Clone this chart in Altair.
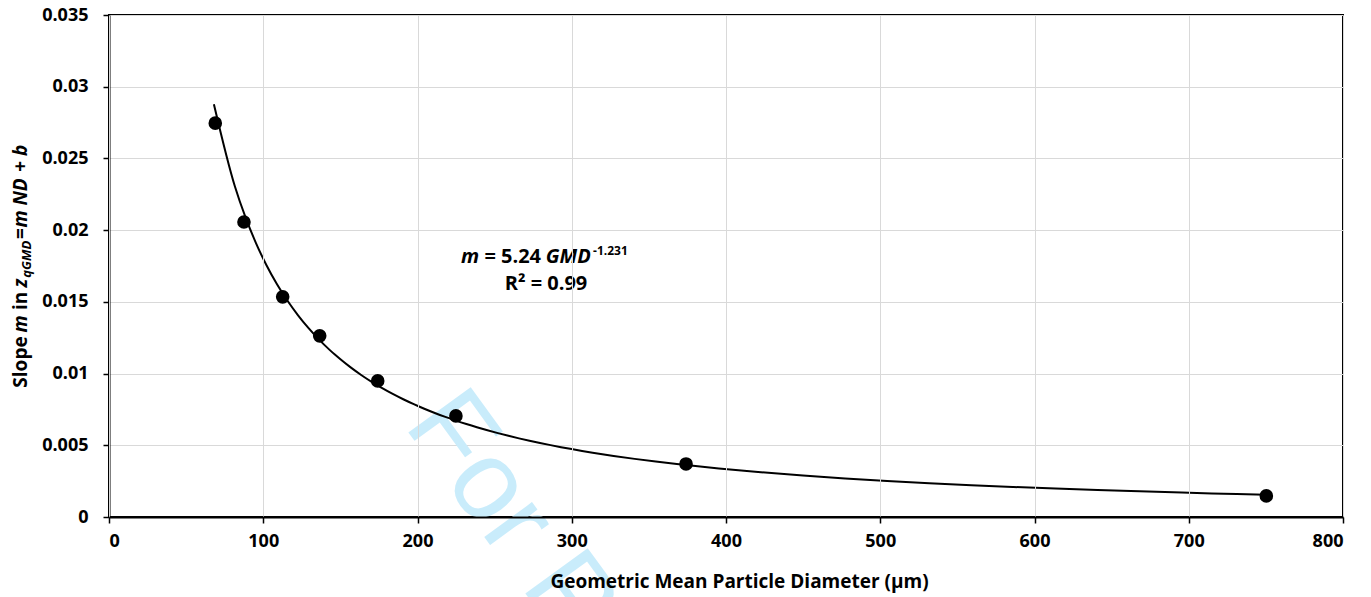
import altair as alt
import pandas as pd

# ---- data ----
gmd = [68.9, 87.5, 112.6, 136.6, 174.2, 224.9, 374.1, 750.3]
slope = [0.02746, 0.02057, 0.01535, 0.01263, 0.00949, 0.00705, 0.0037, 0.00147]
fit_extent = [68, 750]
x_ticks = [0, 100, 200, 300, 400, 500, 600, 700, 800]
y_ticks = [0, 0.005, 0.01, 0.015, 0.02, 0.025, 0.03, 0.035]
x_title = "Geometric Mean Particle Diameter (µm)"
watermark = "For Peer Review"

FONT = "Open Sans"

# approximate advance widths (em) of Open Sans Bold, used only to lay out rich-text pieces
EM = {" ": 0.26, "S": 0.558, "l": 0.286, "o": 0.608, "p": 0.613, "e": 0.575,
      "m": 0.92, "i": 0.286, "n": 0.631, "z": 0.494, "=": 0.572, "+": 0.572,
      "N": 0.778, "D": 0.712, "b": 0.613, "q": 0.613, "G": 0.682, "M": 0.896,
      ".": 0.27, "-": 0.32, "R": 0.66, "0": 0.572, "1": 0.572, "2": 0.572,
      "3": 0.572, "4": 0.572, "5": 0.572, "9": 0.572}


def width(s, size):
    return sum(EM.get(c, 0.57) for c in s) * size


df = pd.DataFrame({"gmd": gmd, "slope": slope})

x_enc = alt.X(
    "gmd:Q",
    scale=alt.Scale(domain=[0, 800], nice=False, zero=False),
    axis=alt.Axis(values=x_ticks, title=x_title, format="d", zindex=1, titleX=630),
)
y_enc = alt.Y(
    "slope:Q",
    scale=alt.Scale(domain=[0, 0.035], nice=False, zero=False),
    axis=alt.Axis(values=y_ticks, title=None, format=".3~f", labelPadding=15),
)

base = alt.Chart(df)
one = base.transform_filter(alt.datum.gmd == gmd[0])

wm = one.mark_text(
    font="Liberation Sans", fontSize=112, angle=54, align="left",
    baseline="alphabetic", color="#c9ecfb",
).encode(x=alt.value(294), y=alt.value(410), text=alt.value(watermark))

curve = base.transform_regression(
    "gmd", "slope", method="pow", extent=fit_extent
).mark_line(color="black", strokeWidth=2, interpolate="monotone").encode(x=x_enc, y=y_enc)

points = base.mark_circle(size=185, color="black", opacity=1).encode(x=x_enc, y=y_enc)


def txt(s, x, y, size=19, italic=False, angle=0, align="left", baseline="alphabetic"):
    kw = dict(font=FONT, fontSize=size, fontWeight="bold", color="black",
              align=align, baseline=baseline)
    if italic:
        kw["fontStyle"] = "italic"
    if angle:
        kw["angle"] = angle
    return one.mark_text(**kw).encode(x=alt.value(x), y=alt.value(y), text=alt.value(s))


# annotation line 1: pieces laid out left to right (plot-area pixel coords)
# (text, size, italic, baseline shift, gap after)
line1 = [("m", 20, True, 0, 5), ("= 5.24", 20, False, 0, 5), ("GMD", 20, True, 0, 1.5),
         ("-1.231", 12, False, -8, 0)]
annot = []
cx = 352
for s, sz, it, dy, gap in line1:
    annot.append(txt(s, cx, 248 + dy, size=sz, italic=it))
    cx += width(s, sz) + gap
annot.append(txt("R² = 0.99", 437, 275, size=20, align="center"))

# y-axis title: pieces stacked bottom-to-top, centred on the plot height
# (text, size, italic, x shift, gap after)
ytitle_pieces = [("Slope", 19, False, 0, 5), ("m", 19, True, 0, 5), ("in", 19, False, 0, 5),
                 ("z", 19, True, 0, 0.5), ("qGMD", 13, True, 4, 1), ("=", 19, False, 0, 0.5),
                 ("m ND", 19, True, 0, 5), ("+", 19, False, 0, 5), ("b", 19, True, 0, 0)]
total = sum(width(s, sz) + g for s, sz, _, _, g in ytitle_pieces)
cy = 251 + total / 2
ytitle = []
for s, sz, it, dx, gap in ytitle_pieces:
    ytitle.append(txt(s, -82 + dx, cy, size=sz, italic=it, angle=270))
    cy -= width(s, sz) + gap

chart = alt.layer(wm, curve, points, *annot, *ytitle).properties(
    width=1234, height=502,
    autosize=alt.AutoSizeParams(type="none"),
    padding={"left": 109, "top": 15, "right": 28, "bottom": 80},
    background="white",
).configure_view(
    stroke="black", strokeWidth=2
).configure_axis(
    grid=True, gridColor="#d9d9d9", gridWidth=1,
    domainColor="black", domainWidth=2,
    tickColor="black", tickWidth=1.5, tickSize=6,
    labelFont=FONT, labelFontSize=18, labelFontWeight="bold", labelColor="black",
    titleFont=FONT, titleFontSize=19, titleFontWeight="bold", titleColor="black",
).configure_axisX(
    labelPadding=9, titlePadding=22
)

chart.save("out.html", embed_options={"renderer": "svg", "actions": False})
